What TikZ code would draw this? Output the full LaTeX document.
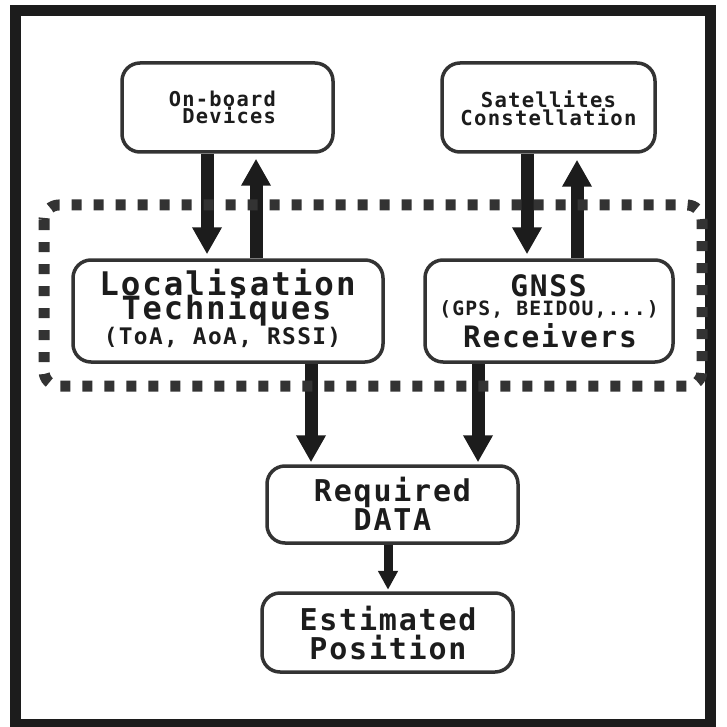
\documentclass[tikz,border=0pt]{standalone}
\usepackage{fontspec}
\usetikzlibrary{arrows.meta}
\newfontfamily\diagfont[LetterSpace=6]{DejaVu Sans Mono}
\definecolor{ink}{HTML}{1C1C1C}
\definecolor{edge}{HTML}{333333}
\begin{document}
\begin{tikzpicture}[x=1pt,y=-1pt,
  box/.style={draw=edge,line width=3.5pt,fill=white,rounded corners=18pt,inner sep=0pt},
  lbl/.style={inner sep=0pt,text=ink,font=\diagfont\bfseries},
  flow/.style={draw=ink,line width=13pt,-{Triangle[width=28pt,length=27pt]}},
  smallflow/.style={draw=ink,line width=9pt,-{Triangle[width=19pt,length=19pt]}}]
\useasboundingbox (0,0) rectangle (726,727);
% outer frame
\draw[ink,line width=11pt] (15.5,10.5) rectangle (710.5,724.5);

% boxes
\node[box,minimum width=211pt,minimum height=89pt]  (ob)  at (227.5,107.5) {};
\node[box,minimum width=213pt,minimum height=89pt]  (sat) at (548.5,107.5) {};
\node[box,minimum width=310pt,minimum height=102pt] (loc) at (228,311) {};
\node[box,minimum width=248pt,minimum height=102pt] (gn)  at (549,311) {};
\node[box,minimum width=251pt,minimum height=77pt]  (req) at (392.5,504.5) {};
\node[box,minimum width=251pt,minimum height=79pt]  (est) at (387.5,632.5) {};

% labels
\node[lbl,anchor=base east] (obA) at (276,107) {\fontsize{20.4}{21}\selectfont On-board};
\node[lbl,anchor=base east] (obB) at (276,124) {\fontsize{20.4}{21}\selectfont Devices};
\node[lbl,anchor=base] (satA) at (548.5,108) {\fontsize{20.6}{21}\selectfont Satellites};
\node[lbl,anchor=base] (satB) at (548.5,126) {\fontsize{20.6}{21}\selectfont Constellation};
\node[lbl,anchor=base] (locA) at (227.5,295) {\fontsize{32.5}{33}\selectfont Localisation};
\node[lbl,anchor=base] (locB) at (226.5,319) {\fontsize{32}{33}\selectfont Techniques};
\node[lbl,anchor=base] (locC) at (222.5,344) {\fontsize{22.8}{23}\selectfont (ToA, AoA, RSSI)};
\node[lbl,anchor=base] (gnA) at (548.5,296) {\fontsize{29.5}{30}\selectfont GNSS};
\node[lbl,anchor=base] (gnB) at (549,315) {\fontsize{19.7}{20}\selectfont (GPS, BEIDOU,...)};
\node[lbl,anchor=base] (gnC) at (550,347) {\fontsize{29.5}{30}\selectfont Receivers};
\node[lbl,anchor=base] (reqA) at (392.5,501) {\fontsize{30}{30}\selectfont Required};
\node[lbl,anchor=base] (reqB) at (392.5,530) {\fontsize{30}{30}\selectfont DATA};
\node[lbl,anchor=base] (estA) at (388,630) {\fontsize{30}{30}\selectfont Estimated};
\node[lbl,anchor=base] (estB) at (388,659) {\fontsize{30}{30}\selectfont Position};

% connectors
\draw[flow,shorten >=4pt] ([xshift=-20.5pt]ob.south) -- ([xshift=-20.5pt]ob.south |- loc.north);
\draw[flow,shorten >=5pt] ([xshift=28pt]loc.north) -- ([xshift=28pt]loc.north |- ob.south);
\draw[flow,shorten >=4pt] ([xshift=-21.5pt]sat.south) -- ([xshift=-21.5pt]sat.south |- gn.north);
\draw[flow,shorten >=6pt] ([xshift=28pt]gn.north) -- ([xshift=28pt]gn.north |- sat.south);
\draw[flow,shorten >=2pt] ([xshift=83pt]loc.south) -- ([xshift=83pt]loc.south |- req.north);
\draw[flow,shorten >=2pt] ([xshift=-71pt]gn.south) -- ([xshift=-71pt]gn.south |- req.north);
\draw[smallflow,shorten >=1.5pt] ([xshift=-4.5pt]req.south) -- ([xshift=-4.5pt]req.south |- est.north);

% dashed grouping outline
\draw[edge,line width=11pt,dash pattern=on 10pt off 12pt,rounded corners=15pt]
  (44,205) rectangle (702,386);
\end{tikzpicture}
\end{document}
